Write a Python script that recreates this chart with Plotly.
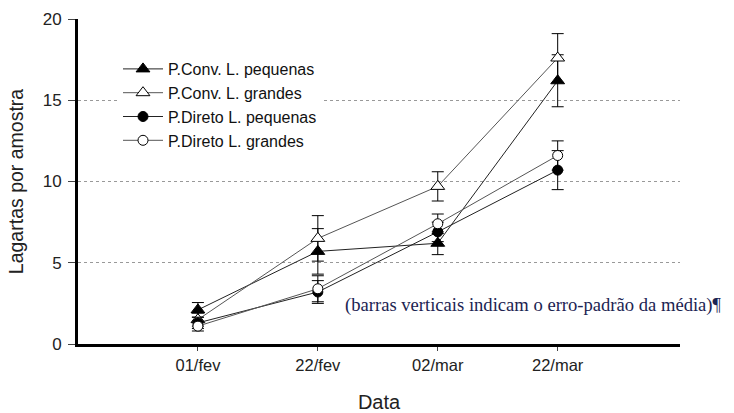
import plotly.graph_objects as go

dates = ["01/fev", "22/fev", "02/mar", "22/mar"]
xpos = [0, 1, 2, 3]

conv_peq = [2.1, 5.7, 6.2, 16.2]
conv_peq_err = [0.45, 1.4, 0.7, 1.6]
conv_gra = [1.5, 6.5, 9.7, 17.6]
conv_gra_err = [0.4, 1.4, 0.9, 1.5]
dir_peq = [1.3, 3.2, 6.9, 10.7]
dir_peq_err = [0.35, 0.7, 0.6, 1.2]
dir_gra = [1.1, 3.4, 7.4, 11.6]
dir_gra_err = [0.3, 0.8, 0.6, 0.9]

series = [
    ("P.Conv. L. pequenas", conv_peq, conv_peq_err, "triangle-up", "black", "#222222", 12),
    ("P.Conv. L. grandes", conv_gra, conv_gra_err, "triangle-up", "white", "#555555", 12),
    ("P.Direto L. pequenas", dir_peq, dir_peq_err, "circle", "black", "#222222", 10),
    ("P.Direto L. grandes", dir_gra, dir_gra_err, "circle", "white", "#555555", 10),
]

W, H = 734, 413
ml, mr, mt, mb = 78, 54, 19, 69
pw, ph = W - ml - mr, H - mt - mb

fig = go.Figure()
for name, vals, errs, sym, fill, lc, size in series:
    fig.add_trace(go.Scatter(
        x=xpos, y=vals, name=name, mode="lines+markers",
        line=dict(color=lc, width=1),
        marker=dict(symbol=sym, size=size, color=fill, line=dict(color="black", width=1)),
        error_y=dict(type="data", array=errs, visible=True, color="black", thickness=1, width=6),
    ))

fig.add_annotation(
    x=(343 - ml) / pw, y=(H - mb - 305) / ph, xref="paper", yref="paper",
    text="(barras verticais indicam o erro-padrão da média)¶",
    showarrow=False, xanchor="left", yanchor="middle",
    font=dict(family="Liberation Serif", size=18.6, color="#1c2452"),
)

fig.update_layout(
    width=W, height=H,
    margin=dict(l=ml, r=mr, t=mt, b=mb, autoexpand=False),
    paper_bgcolor="white", plot_bgcolor="white",
    font=dict(family="Liberation Sans", size=16, color="#222222"),
    showlegend=True,
    legend=dict(x=(118 - ml) / pw, y=(H - mb - 52) / ph, xanchor="left", yanchor="top",
                bgcolor="white", borderwidth=0, font=dict(size=16, color="#111111"),
                itemwidth=40),
    xaxis=dict(range=[-1, 4.02], tickvals=xpos, ticktext=dates, showgrid=False, zeroline=False,
               automargin=False,
               showline=True, linecolor="black", linewidth=3, ticks="outside", ticklen=4,
               tickcolor="#444444", tickfont=dict(size=16.5),
               title=dict(text="Data", font=dict(size=20), standoff=24)),
    yaxis=dict(range=[0, 20], tickvals=[0, 5, 10, 15, 20], showgrid=True, gridcolor="#999999",
               automargin=False,
               griddash="dot", gridwidth=1, zeroline=False, showline=True, linecolor="black",
               linewidth=3, ticks="outside", ticklen=7, tickcolor="#444444", tickfont=dict(size=17),
               ticklabelstandoff=3,
               title=dict(text="Lagartas por amostra", font=dict(size=19.5), standoff=14)),
)

fig.write_html("out.html", config={"displayModeBar": False},
               post_script="document.body.style.margin='0';document.body.style.padding='0';")
